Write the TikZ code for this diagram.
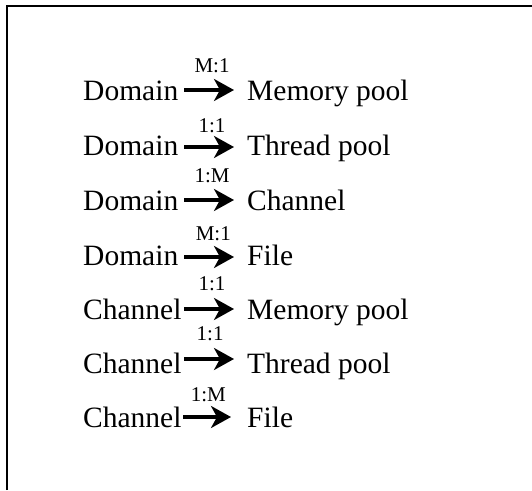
\documentclass[tikz,border=0pt]{standalone}
\usepackage{fontspec}
\setmainfont{Liberation Serif}
\usetikzlibrary{arrows.meta}
\begin{document}
\begin{tikzpicture}[x=1pt,y=-1pt,
  lhs/.style={anchor=base west, inner sep=0pt, text width=100pt, align=left,
              font=\fontsize{29.5}{34}\selectfont},
  rhs/.style={anchor=base west, inner sep=0pt, font=\fontsize{29.5}{34}\selectfont},
  rel/.style={line width=3.2pt, -{Stealth[length=20pt,width=22pt,inset=6pt]},
              shorten <=1pt, shorten >=13pt},
  card/.style={anchor=base, inner sep=0pt, yshift=#1, font=\fontsize{21}{24}\selectfont},
  card/.default=17pt,
  frame/.style={line width=1.4pt}]
\useasboundingbox (0,0) rectangle (532,490);
% open frame: top and left edges
\draw[frame] (7,490) -- (7,6) -- (532,6);

% left-hand entities
\node[lhs] (l1) at (83,100) {Domain};
\node[lhs] (l2) at (83,155) {Domain};
\node[lhs] (l3) at (83,210) {Domain};
\node[lhs] (l4) at (83,265) {Domain};
\node[lhs] (l5) at (83,319) {Channel};
\node[lhs] (l6) at (83,373) {Channel};
\node[lhs] (l7) at (83,427) {Channel};

% right-hand entities
\node[rhs] (r1) at (247,100) {Memory pool};
\node[rhs] (r2) at (247,155) {Thread pool};
\node[rhs] (r3) at (247,210) {Channel};
\node[rhs] (r4) at (247,265) {File};
\node[rhs] (r5) at (247,319) {Memory pool};
\node[rhs] (r6) at (247,373) {Thread pool};
\node[rhs] (r7) at (247,427) {File};

% relations with cardinalities
\draw[rel] ([yshift=10pt]l1.base east) -- ([yshift=10pt]r1.base west)
  node[card=18pt, pos=0.45] {M:1};
\draw[rel] ([yshift=8pt]l2.base east) -- ([yshift=8pt]r2.base west)
  node[card=15pt, pos=0.45] {1:1};
\draw[rel] ([yshift=10pt]l3.base east) -- ([yshift=10pt]r3.base west)
  node[card=18pt, pos=0.45] {1:M};
\draw[rel] ([yshift=8pt]l4.base east) -- ([yshift=8pt]r4.base west)
  node[card=17pt, pos=0.47] {M:1};
\draw[rel] ([yshift=10pt]l5.base east) -- ([yshift=10pt]r5.base west)
  node[card=19pt, pos=0.45] {1:1};
\draw[rel] ([yshift=14pt]l6.base east) -- ([yshift=14pt]r6.base west)
  node[card=19pt, pos=0.42] {1:1};
\draw[rel] ([xshift=-1pt,yshift=10pt]l7.base east) -- ([xshift=-3pt,yshift=10pt]r7.base west)
  node[card=16pt, pos=0.42] {1:M};
\end{tikzpicture}
\end{document}
